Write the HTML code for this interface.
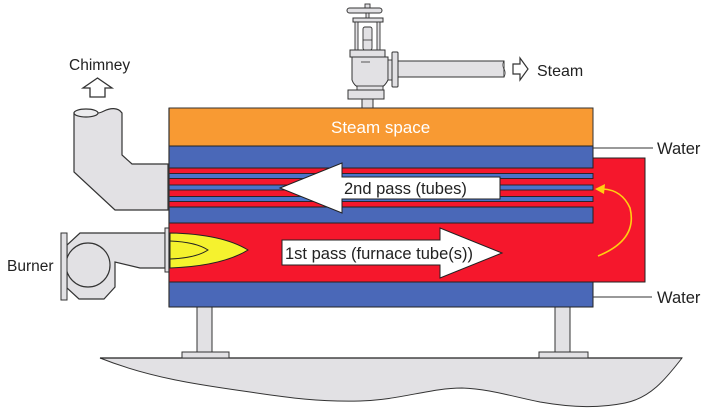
<!DOCTYPE html>
<html><head><meta charset="utf-8"><style>
html,body{margin:0;padding:0;background:#fff;}
svg{display:block;}
text{font-family:"Liberation Sans",Arial,sans-serif;}
</style></head><body>
<svg width="712" height="415" viewBox="0 0 712 415" xmlns="http://www.w3.org/2000/svg">
<rect width="712" height="415" fill="#fff"/>
<!-- ground -->
<path d="M100,358 L682,358 C665,380 650,398 625,403 C600,408 575,408 540,402 C510,396 490,389 462,388 C430,388 400,400 360,401 C320,402 290,398 250,392 C200,385 150,378 100,358 Z" fill="#e2e1e4" stroke="#333" stroke-width="1"/>
<line x1="100" y1="358" x2="682" y2="358" stroke="#222" stroke-width="1.3"/>
<!-- legs -->
<rect x="197" y="307" width="15" height="45" fill="#e2e1e4" stroke="#333" stroke-width="1"/>
<rect x="182" y="352" width="47" height="6" fill="#e2e1e4" stroke="#333" stroke-width="1"/>
<rect x="555" y="307" width="15" height="45" fill="#e2e1e4" stroke="#333" stroke-width="1"/>
<rect x="539" y="352" width="49" height="6" fill="#e2e1e4" stroke="#333" stroke-width="1"/>
<!-- chimney -->
<path d="M74,113 L74,172 L115,210 L168,210 L168,164 L132,164 L122,155 L122,113 C118,107 110,108 104,111 C100,113 99,113 98,113 Z" fill="#e2e1e4" stroke="#333" stroke-width="1.2"/>
<ellipse cx="86" cy="113" rx="12" ry="4" fill="#ececee" stroke="#333" stroke-width="1.2"/>
<!-- chimney arrow -->
<polygon points="97.5,78 112,88 105,88 105,97 90,97 90,88 83,88" fill="#fff" stroke="#333" stroke-width="1.3"/>
<!-- burner -->
<path d="M80,233 L165,233 L165,268 L140,268 L115,262 L115,287 L104,299 L79,299 L67,288 L67,245 Z" fill="#e2e1e4" stroke="#333" stroke-width="1.2"/>
<circle cx="88" cy="265" r="22" fill="#e2e1e4" stroke="#333" stroke-width="1.2"/>
<rect x="61" y="233" width="6" height="67" fill="#e2e1e4" stroke="#333" stroke-width="1"/>
<rect x="165" y="228" width="5" height="44" fill="#e2e1e4" stroke="#333" stroke-width="1"/>
<!-- red chamber -->
<path d="M169,168 L593,168 L593,158 L645,158 L645,282 L169,282 Z" fill="#f5172c" stroke="#222" stroke-width="1"/>
<!-- steam space -->
<rect x="169" y="108" width="424" height="38" fill="#f89a33" stroke="#333" stroke-width="1"/>
<!-- upper blue band -->
<rect x="169" y="146" width="424" height="22" fill="#4a68b8" stroke="#222" stroke-width="1"/>
<!-- tubes -->
<rect x="169" y="173.5" width="424" height="5" fill="#4a73c9" stroke="#222" stroke-width="0.9"/>
<rect x="169" y="185" width="424" height="5" fill="#4a73c9" stroke="#222" stroke-width="0.9"/>
<rect x="169" y="196.5" width="424" height="5" fill="#4a73c9" stroke="#222" stroke-width="0.9"/>
<!-- middle blue band -->
<rect x="169" y="207" width="424" height="16" fill="#4a68b8" stroke="#222" stroke-width="1"/>
<!-- bottom blue band -->
<rect x="169" y="282" width="424" height="25" fill="#4a68b8" stroke="#222" stroke-width="1"/>
<line x1="169" y1="108" x2="169" y2="307" stroke="#333" stroke-width="1.2"/>
<!-- flame -->
<path d="M170,233 Q222,234 248,250 Q222,266 170,268 Z" fill="#f5f22e" stroke="#222" stroke-width="1"/>
<path d="M170,241 Q196,242 208,250 Q196,258 170,259" fill="none" stroke="#222" stroke-width="1"/>
<!-- 2nd pass arrow -->
<polygon points="280,188 342,163 342,177 500,177 500,199 342,199 342,213" fill="#fff" stroke="#222" stroke-width="1"/>
<text x="344" y="194" font-size="16.5" fill="#222">2nd pass (tubes)</text>
<!-- 1st pass arrow -->
<polygon points="282,240 440,240 440,228 502,253 440,278 440,265 282,265" fill="#fff" stroke="#222" stroke-width="1"/>
<text x="285" y="259" font-size="16.5" fill="#222">1st pass (furnace tube(s))</text>
<!-- yellow return arrow -->
<path d="M598,256 Q638,240 630,208 Q622,190 603,189" fill="none" stroke="#ffcf10" stroke-width="1.6"/>
<polygon points="595,189 605,184 604,194" fill="#ffcf10"/>
<!-- water lines -->
<line x1="593" y1="148" x2="653" y2="148" stroke="#333" stroke-width="1"/>
<line x1="593" y1="297" x2="652" y2="297" stroke="#333" stroke-width="1"/>
<!-- valve -->
<rect x="398" y="61" width="106" height="16" fill="#e2e1e4" stroke="#333" stroke-width="1"/>
<path d="M504,61 q-2,4 0,8 q2,4 0,8" fill="#fff" stroke="#333" stroke-width="1"/>
<rect x="365" y="4" width="5" height="4" fill="#e2e1e4" stroke="#333" stroke-width="0.9"/>
<rect x="366" y="12" width="3" height="7" fill="#e2e1e4" stroke="#333" stroke-width="0.9"/>
<rect x="347" y="8" width="35" height="5" rx="2.5" fill="#e2e1e4" stroke="#333" stroke-width="1"/>
<rect x="353" y="18" width="30" height="4" fill="#e2e1e4" stroke="#333" stroke-width="1"/>
<rect x="355" y="22" width="3" height="28" fill="#e2e1e4" stroke="#333" stroke-width="0.9"/>
<rect x="377" y="22" width="3" height="28" fill="#e2e1e4" stroke="#333" stroke-width="0.9"/>
<rect x="363" y="27" width="9" height="23" rx="2" fill="#e2e1e4" stroke="#333" stroke-width="0.9"/>
<line x1="363" y1="40" x2="372" y2="40" stroke="#333" stroke-width="0.8"/>
<path d="M352,57 L388,57 L388,80 Q384,88 378,88 L360,88 Q354,86 352,80 Z" fill="#e2e1e4" stroke="#333" stroke-width="1"/>
<line x1="361" y1="62" x2="370" y2="62" stroke="#333" stroke-width="0.8"/>
<rect x="350" y="50" width="35" height="7" fill="#e2e1e4" stroke="#333" stroke-width="1"/>
<rect x="388" y="60" width="4" height="20" fill="#e2e1e4" stroke="#333" stroke-width="0.9"/>
<rect x="392" y="52" width="6" height="35" rx="1" fill="#e2e1e4" stroke="#333" stroke-width="1"/>
<rect x="357" y="86" width="26" height="4" fill="#e2e1e4" stroke="#333" stroke-width="0.9"/>
<rect x="348" y="90" width="36" height="9" fill="#e2e1e4" stroke="#333" stroke-width="1"/>
<rect x="362" y="99" width="11" height="9" fill="#e2e1e4" stroke="#333" stroke-width="1"/>
<!-- steam arrow -->
<polygon points="513,64 520,64 520,58 528,69 520,80 520,74 513,74" fill="#fff" stroke="#333" stroke-width="1.2"/>
<!-- labels -->
<text x="69" y="70" font-size="15.5" fill="#222">Chimney</text>
<text x="537" y="76" font-size="16" fill="#222">Steam</text>
<text x="331" y="133" font-size="17" fill="#fff">Steam space</text>
<text x="657" y="154" font-size="16.5" fill="#222">Water</text>
<text x="657" y="303" font-size="16.5" fill="#222">Water</text>
<text x="7" y="271" font-size="15.5" fill="#222">Burner</text>
</svg>
</body></html>
